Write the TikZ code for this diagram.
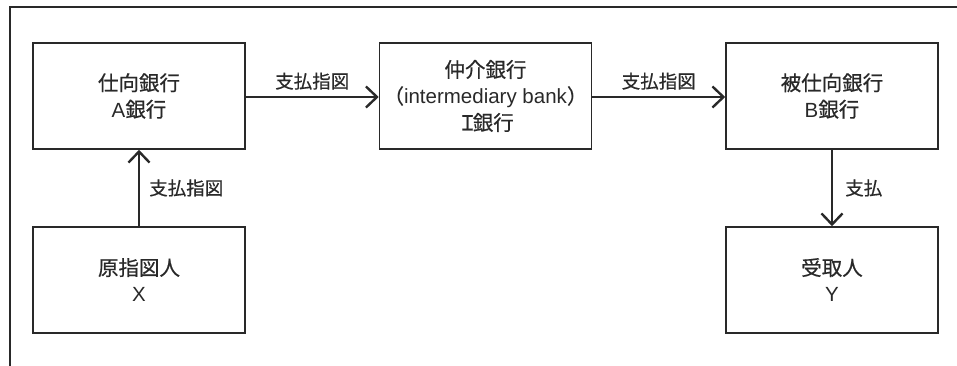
\documentclass[tikz,border=0pt]{standalone}
\usepackage{fontspec}
\setmainfont{Noto Sans CJK JP}[FakeBold=0.6]
\newfontfamily\lat{Liberation Sans}
\usetikzlibrary{arrows.meta}
\definecolor{ink}{gray}{0.16}
\tikzset{
  box/.style={draw=ink, line width=1.6pt, minimum width=212pt, minimum height=106pt, align=center, text=ink,
    font=\fontsize{20.5}{26.5}\selectfont, inner sep=0pt},
  conn/.style={draw=ink, line width=2.6pt, -{Straight Barb[length=11pt,width=21pt,line width=2.4pt]}},
  lbl/.style={text=ink, font=\fontsize{18.5}{20}\selectfont, inner sep=0pt},
  frame/.style={draw=ink, line width=1.8pt}
}
\begin{document}
\begin{tikzpicture}[x=1pt,y=-1pt]
\useasboundingbox (0,0) rectangle (957,366);
\coordinate (ftr) at (957,7);
\coordinate (ftl) at (10,7);
\coordinate (fbl) at (10,366);
\draw[frame] (ftr) -- (ftl) -- (fbl);
\node[box] (A) at (139,96) {仕向銀行\\{\lat A}銀行};
\node[box] (I) at (485.5,96) {仲介銀行\\（{\lat intermediary bank}）\\Ｉ\hspace{-5pt}銀行};
\node[box] (B) at (832,96) {被仕向銀行\\{\lat B}銀行};
\node[box] (X) at (139,280) {原指図人\\{\lat X}};
\node[box] (Y) at (832,280) {受取人\\{\lat Y}};
\draw[conn] (A.east |- 0,97) -- (I.west |- 0,97) node[lbl, midway, above=6pt] {支払指図};
\draw[conn] (I.east |- 0,97) -- (B.west |- 0,97) node[lbl, midway, above=6pt] {支払指図};
\draw[conn] (X.north) -- (A.south) node[lbl, midway, right=9pt] {支払指図};
\draw[conn] (B.south) -- (Y.north) node[lbl, midway, right=12pt] {支払};
\end{tikzpicture}
\end{document}
